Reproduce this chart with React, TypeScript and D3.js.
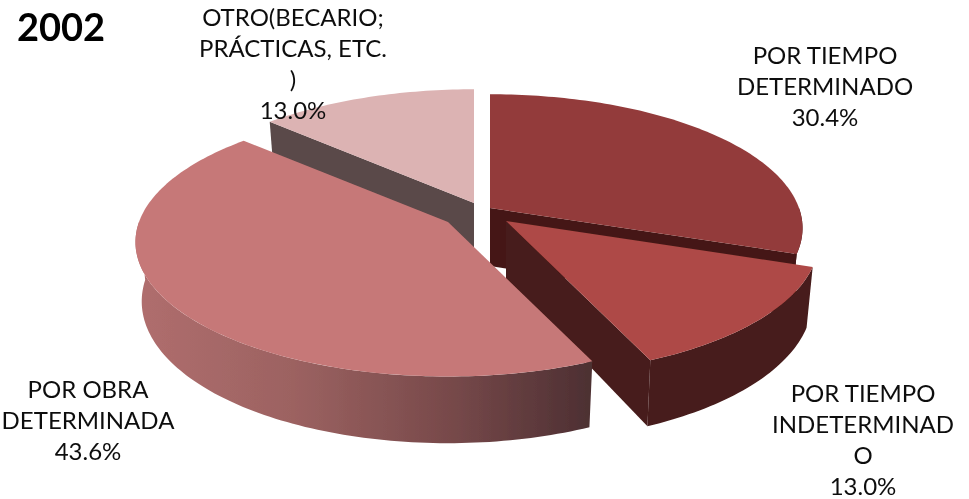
import React from "react";
import * as d3 from "d3";

const categories = ["POR TIEMPO DETERMINADO", "POR TIEMPO INDETERMINADO", "POR OBRA DETERMINADA", "OTRO(BECARIO; PRÁCTICAS, ETC.)"];
const values = [30.4, 13.0, 43.6, 13.0];
const percentLabels = ["30.4%", "13.0%", "43.6%", "13.0%"];
const title = "2002";
const topColors = ["#933a3a", "#ae4946", "#c67878", "#dcb3b3"];
const wallColors = ["#441917", "#461b1a", "url(#sideGrad)", "#5a4848"];
const edgeColors = ["#441917", "#461b1a", "none", "#5a4848"];
const labelLines = [
  ["POR TIEMPO", "DETERMINADO", "30.4%"],
  ["POR TIEMPO", "INDETERMINAD", "O", "13.0%"],
  ["POR OBRA", "DETERMINADA", "43.6%"],
  ["OTRO(BECARIO;", "PRÁCTICAS, ETC.", ")", "13.0%"],
];
const labelAnchors = [[825, 64], [863, 402], [88, 398], [293, 26]];
const apexes = [[490, 208], [506, 221], [448, 222], [474, 203]];

const RX = 309, RY = 131, KX = 0.15, KY = 0.152, DEPTH = 58, LINE = 31, LOWER_SHRINK = 0.98;
const FONT = "Lato, 'Open Sans', sans-serif";

const pieGen = d3.pie<number>().sort(null).value((d) => d);
const arcs = pieGen(values);
const lineGen = d3.line<[number, number]>().x((d) => d[0]).y((d) => d[1]);

function project(apex: number[], t: number, lower = false): [number, number] {
  const u = Math.sin(t), v = -Math.cos(t);
  const x = apex[0] + (RX * u * (lower ? LOWER_SHRINK : 1)) / (1 - KX * v);
  const yTop = apex[1] + (RY * v) / (1 - KY * v);
  return [x, yTop + (lower ? DEPTH * (1 + 0.15 * v) : 0)];
}
function rim(apex: number[], a: number, b: number, lower = false): [number, number][] {
  const n = Math.max(2, Math.ceil(Math.abs(b - a) / 0.02));
  return d3.range(n + 1).map((i) => project(apex, a + ((b - a) * i) / n, lower));
}

const drawOrder = [3, 0, 1, 2];
const HALF = Math.PI / 2;

export default function App() {
  return (
    <svg width={969} height={499} style={{ position: "absolute", left: 0, top: 0 }} fontFamily={FONT}>
      <defs>
        <linearGradient id="sideGrad" gradientUnits="userSpaceOnUse" x1={135} x2={587} y1={0} y2={0}>
          <stop offset="0" stopColor="#b06e6e" />
          <stop offset="0.35" stopColor="#9c6261" />
          <stop offset="0.7" stopColor="#77494a" />
          <stop offset="1" stopColor="#4e3033" />
        </linearGradient>
        <filter id="soft" x="-5%" y="-5%" width="110%" height="110%">
          <feGaussianBlur stdDeviation="0.5" />
        </filter>
      </defs>
      <g filter="url(#soft)">
        {drawOrder.map((i) => {
          const arc = arcs[i];
          const apex = apexes[i];
          const a = arc.startAngle, b = arc.endAngle;
          const top = [[apex[0], apex[1]] as [number, number], ...rim(apex, a, b)];
          const apexLow: [number, number] = [apex[0], apex[1] + DEPTH];
          const wa = Math.max(a, HALF), wb = Math.min(b, 3 * HALF);
          const outer = wb > wa ? [...rim(apex, wa, wb), ...rim(apex, wb, wa, true)] : null;
          let edge: [number, number][] | null = null;
          if (i === 0 || i === 1) {
            edge = [[apex[0], apex[1]], project(apex, b), project(apex, b, true), apexLow];
          } else if (i === 3) {
            edge = [[apex[0], apex[1]], project(apex, a), project(apex, a, true), apexLow];
          }
          return (
            <g key={categories[i]}>
              {edge && <path d={lineGen(edge) + "Z"} fill={edgeColors[i]} />}
              {outer && <path d={lineGen(outer) + "Z"} fill={wallColors[i]} />}
              <path d={lineGen(top) + "Z"} fill={topColors[i]} />
            </g>
          );
        })}
        <text x={17} y={41} fontSize={38} fontWeight={700} fill="#000">{title}</text>
        {labelLines.map((lines, i) => (
          <text key={percentLabels[i] + i} x={labelAnchors[i][0]} textAnchor="middle" fontSize={24} fill="#111">
            {lines.map((l, j) => (
              <tspan key={j} x={labelAnchors[i][0]} y={labelAnchors[i][1] + j * LINE}>{l}</tspan>
            ))}
          </text>
        ))}
      </g>
    </svg>
  );
}
